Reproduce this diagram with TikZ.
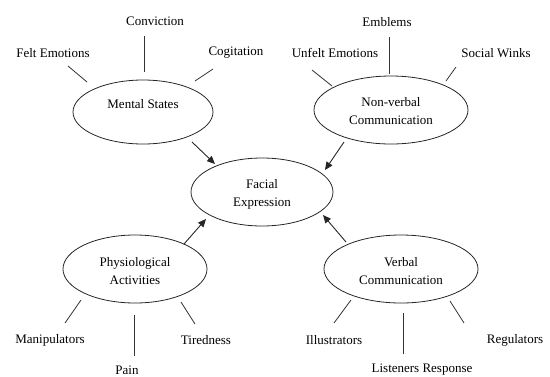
\documentclass[tikz,border=0pt]{standalone}
\usepackage{fontspec}
\setmainfont{Liberation Serif}
\usetikzlibrary{shapes.geometric,arrows.meta}
\begin{document}
\begin{tikzpicture}[x=1pt,y=-1pt,
  oval/.style={draw=black!85,line width=0.8pt,ellipse,inner sep=0pt},
  txt/.style={font=\fontsize{13}{18}\selectfont,align=center,inner sep=0pt},
  link/.style={draw=black!80,line width=0.8pt},
  arr/.style={draw=black!85,line width=0.9pt,-{Triangle[length=8pt,width=7pt]}}]
\useasboundingbox (0,0) rectangle (550,376);
% ellipses
\node[oval,minimum width=140pt,minimum height=64pt] (ms) at (143,112) {};
\node[oval,minimum width=154pt,minimum height=68pt] (nv) at (391,110) {};
\node[oval,minimum width=142pt,minimum height=68pt] (fe) at (262,192) {};
\node[oval,minimum width=144pt,minimum height=68pt] (pa) at (135,269) {};
\node[oval,minimum width=154pt,minimum height=68pt] (vc) at (401,269) {};
% ellipse texts
\node[txt] (mst) at (143,104) {Mental States};
\node[txt] (nvt) at (391,111) {Non-verbal\\Communication};
\node[txt] (fet) at (262,194) {Facial\\Expression};
\node[txt] (pat) at (135,271) {Physiological\\Activities};
\node[txt] (vct) at (401,271) {Verbal\\Communication};
% outer labels
\node[txt] (felt) at (53,53) {Felt Emotions};
\node[txt] (conv) at (155,21) {Conviction};
\node[txt] (cogi) at (236,53) {Cogitation};
\node[txt] (unfe) at (335,53) {Unfelt Emotions};
\node[txt] (embl) at (387,22) {Emblems};
\node[txt] (soci) at (496,53) {Social Winks};
\node[txt] (mani) at (50,340) {Manipulators};
\node[txt] (pain) at (127,370) {Pain};
\node[txt] (tire) at (206,340) {Tiredness};
\node[txt] (illu) at (334,340) {Illustrators};
\node[txt] (list) at (422,370) {Listeners Response};
\node[txt] (regu) at (515,340) {Regulators};
% connector end points
\coordinate (c1a) at (144,36); \coordinate (c1b) at (144,72);
\coordinate (c2a) at (68,66);  \coordinate (c2b) at (87,82);
\coordinate (c3a) at (213,69); \coordinate (c3b) at (195,81);
\coordinate (c4a) at (389,37); \coordinate (c4b) at (389,74);
\coordinate (c5a) at (312,70); \coordinate (c5b) at (332,86);
\coordinate (c6a) at (456,67); \coordinate (c6b) at (446,81);
\coordinate (c7a) at (65,323); \coordinate (c7b) at (81,300);
\coordinate (c8a) at (134,356); \coordinate (c8b) at (134,315);
\coordinate (c9a) at (195,324); \coordinate (c9b) at (181,302);
\coordinate (c10a) at (334,323); \coordinate (c10b) at (351,300);
\coordinate (c11a) at (403,354); \coordinate (c11b) at (403,313);
\coordinate (c12a) at (464,323); \coordinate (c12b) at (450,301);
\foreach \i in {1,...,12} {\path[link] (c\i a) -- (c\i b);}
% arrows into Facial Expression
\coordinate (a1) at (192,142); \coordinate (t1) at (215,164);
\coordinate (a2) at (344,142); \coordinate (t2) at (325,170);
\coordinate (a3) at (184,244); \coordinate (t3) at (206,219);
\coordinate (a4) at (346,242); \coordinate (t4) at (323,215);
\foreach \i in {1,...,4} {\path[arr] (a\i) -- (t\i);}
\end{tikzpicture}
\end{document}
